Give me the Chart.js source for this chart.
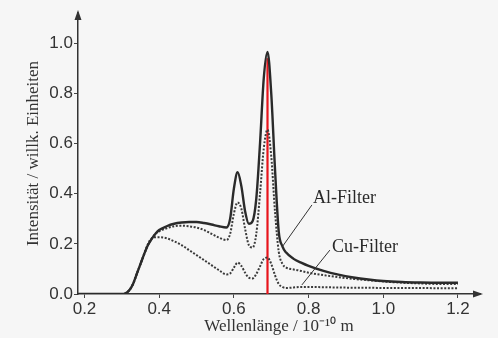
<!DOCTYPE html>
<html>
<head>
<meta charset="utf-8">
<script src="https://cdn.jsdelivr.net/npm/chart.js@4/dist/chart.umd.min.js"></script>
<style>
  html, body { margin: 0; padding: 0; background: #f6f6f6; }
  #wrap { width: 498px; height: 338px; position: relative; }
</style>
</head>
<body>
<div id="wrap"><canvas id="c" width="498" height="338"></canvas></div>
<script>
// Wavelength grid (10^-10 m)
const wavelengths = [0.183,0.30,0.31,0.32,0.33,0.34,0.35,0.36,0.37,0.38,0.39,0.40,0.42,0.44,0.46,0.48,0.50,0.52,0.54,0.56,0.58,0.59,0.60,0.61,0.62,0.63,0.64,0.65,0.66,0.67,0.68,0.69,0.70,0.71,0.72,0.73,0.74,0.76,0.78,0.80,0.84,0.88,0.92,0.96,1.00,1.05,1.10,1.15,1.20];
// Unfiltered spectrum (solid)
const unfiltered = [0,0,0.003,0.015,0.04,0.08,0.12,0.16,0.195,0.22,0.24,0.255,0.27,0.28,0.285,0.287,0.287,0.283,0.277,0.27,0.265,0.30,0.42,0.485,0.43,0.33,0.28,0.29,0.38,0.60,0.86,0.965,0.80,0.50,0.25,0.19,0.165,0.14,0.125,0.112,0.092,0.077,0.066,0.058,0.052,0.048,0.046,0.045,0.045];
// Al-Filter (dotted)
const alFilter = [0,0,0.003,0.015,0.04,0.08,0.12,0.16,0.195,0.22,0.24,0.25,0.262,0.27,0.272,0.27,0.265,0.255,0.24,0.225,0.215,0.24,0.32,0.365,0.34,0.26,0.195,0.185,0.24,0.40,0.58,0.655,0.55,0.33,0.17,0.12,0.105,0.098,0.092,0.085,0.075,0.067,0.06,0.055,0.05,0.045,0.042,0.04,0.04];
// Cu-Filter (dotted)
const cuFilter = [0,0,0.003,0.015,0.04,0.08,0.12,0.16,0.2,0.222,0.226,0.226,0.222,0.21,0.195,0.175,0.155,0.135,0.115,0.095,0.078,0.082,0.105,0.125,0.112,0.085,0.065,0.062,0.08,0.11,0.14,0.145,0.12,0.075,0.04,0.028,0.024,0.026,0.028,0.028,0.027,0.026,0.025,0.025,0.024,0.024,0.024,0.023,0.023];
// Red marker line
const markerX = 0.69;
const markerTop = 0.94;
// Tick labels
const xTicks = [0.2,0.4,0.6,0.8,1.0,1.2];
const yTicks = [0.0,0.2,0.4,0.6,0.8,1.0];
const seriesLabels = ['ohne Filter','Al-Filter','Cu-Filter'];

const toPts = ys => wavelengths.map((x,i)=>({x:x, y:ys[i]}));

const annotations = [
  { text: 'Al-Filter', tx: 0.812, ty: 0.382, from: [0.729,0.187], to: [0.809,0.355] },
  { text: 'Cu-Filter', tx: 0.863, ty: 0.187, from: [0.782,0.036], to: [0.857,0.175] }
];

const extras = {
  id: 'extras',
  afterDatasetsDraw(chart) {
    const {ctx, chartArea: a, scales: {x, y}} = chart;
    ctx.save();
    ctx.strokeStyle = '#333';
    ctx.lineWidth = 1;
    ctx.fillStyle = '#2a2a2a';
    ctx.font = '18px "Liberation Serif", serif';
    ctx.textBaseline = 'middle';
    ctx.textAlign = 'left';
    annotations.forEach(an => {
      ctx.beginPath();
      ctx.moveTo(x.getPixelForValue(an.from[0]), y.getPixelForValue(an.from[1]));
      ctx.lineTo(x.getPixelForValue(an.to[0]), y.getPixelForValue(an.to[1]));
      ctx.stroke();
      ctx.fillText(an.text, x.getPixelForValue(an.tx), y.getPixelForValue(an.ty));
    });
    ctx.fillStyle = '#333';
    ctx.beginPath();
    ctx.moveTo(a.left, a.top - 3);
    ctx.lineTo(a.left - 3.5, a.top + 7);
    ctx.lineTo(a.left + 3.5, a.top + 7);
    ctx.closePath();
    ctx.fill();
    ctx.beginPath();
    ctx.moveTo(a.right + 3, a.bottom);
    ctx.lineTo(a.right - 7, a.bottom - 3.5);
    ctx.lineTo(a.right - 7, a.bottom + 3.5);
    ctx.closePath();
    ctx.fill();
    ctx.restore();
  }
};

new Chart(document.getElementById('c'), {
  type: 'line',
  data: {
    datasets: [
      { label: seriesLabels[0], data: toPts(unfiltered), borderColor: '#2a2a2a', borderWidth: 2.4, pointRadius: 0, cubicInterpolationMode: 'monotone', fill: false },
      { label: seriesLabels[1], data: toPts(alFilter), borderColor: '#3a3a3a', borderWidth: 2, borderDash: [2,1.6], pointRadius: 0, cubicInterpolationMode: 'monotone', fill: false },
      { label: seriesLabels[2], data: toPts(cuFilter), borderColor: '#3a3a3a', borderWidth: 2, borderDash: [2,1.6], pointRadius: 0, cubicInterpolationMode: 'monotone', fill: false },
      { label: 'Marker', data: [{x: markerX, y: 0}, {x: markerX, y: markerTop}], borderColor: '#e8141b', borderWidth: 2.2, pointRadius: 0, fill: false }
    ]
  },
  options: {
    responsive: false,
    animation: false,
    layout: { padding: { left: 0, right: 18, top: 13, bottom: 0 } },
    plugins: { legend: { display: false }, tooltip: { enabled: false } },
    scales: {
      x: {
        type: 'linear',
        min: 0.1826,
        max: 1.259,
        afterFit: s => { s.height = 44; },
        afterBuildTicks: s => { s.ticks = xTicks.map(v => ({value: v})); },
        grid: { display: true, drawOnChartArea: false, drawTicks: true, tickLength: 4, color: '#444' },
        border: { display: true, color: '#333', width: 1.5 },
        ticks: { padding: 1, color: '#333', font: { family: '"Liberation Sans", Arial, sans-serif', size: 17 }, maxRotation: 0, autoSkip: false, callback: v => v.toFixed(1) },
        title: { display: true, text: 'Wellenlänge / 10⁻¹⁰ m', color: '#333', font: { family: '"Liberation Serif", serif', size: 17 }, padding: { top: 0, bottom: 1 } }
      },
      y: {
        type: 'linear',
        min: 0,
        max: 1.12,
        afterFit: s => { s.width = 78; },
        afterBuildTicks: s => { s.ticks = yTicks.map(v => ({value: v})); },
        grid: { display: true, drawOnChartArea: false, drawTicks: true, tickLength: 4, color: '#444' },
        border: { display: true, color: '#333', width: 1.5 },
        ticks: { padding: 1, color: '#333', font: { family: '"Liberation Sans", Arial, sans-serif', size: 17 }, autoSkip: false, callback: v => v.toFixed(1) },
        title: { display: true, text: 'Intensität / willk. Einheiten', color: '#333', font: { family: '"Liberation Serif", serif', size: 17 }, padding: { top: 23, bottom: 0 } }
      }
    }
  },
  plugins: [extras]
});
</script>
</body>
</html>
